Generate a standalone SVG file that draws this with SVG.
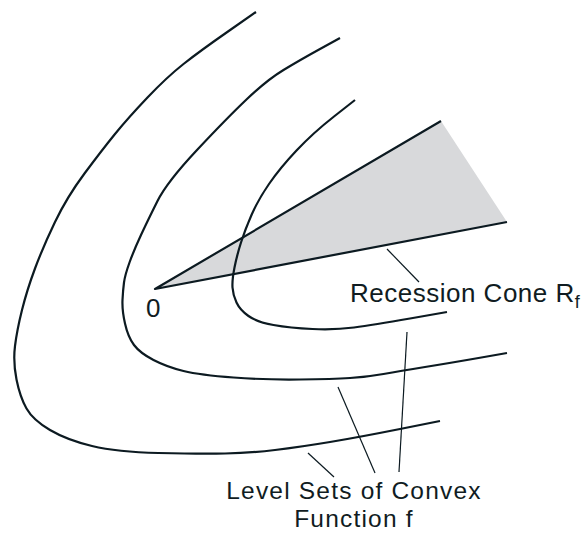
<svg xmlns="http://www.w3.org/2000/svg" width="583" height="533" viewBox="0 0 583 533">
<style>
.curve{fill:none;stroke:#0c1a21;stroke-width:2.2;stroke-linecap:butt;stroke-linejoin:round}
.leader{fill:none;stroke:#0c1a21;stroke-width:1.2}
.lbl{font-family:"Liberation Sans",Arial,sans-serif;font-size:26px;fill:#101c22;letter-spacing:0.55px}
.lbl2{font-family:"Liberation Sans",Arial,sans-serif;font-size:24.5px;fill:#101c22;letter-spacing:1.2px}
</style>
<rect width="583" height="533" fill="#ffffff"/>
<g id="cone">
<polygon points="155,289 441,121 507,222" fill="#d8d9db"/>
<polyline class="curve" points="441,121 155,289 507,222"/>
</g>
<g id="level-set-outer">
<path class="curve" d="M256,12 L228,31.5 Q200,51 183.5,64 Q167,77 147.5,97.5 Q128,118 115,134 Q102,150 84.5,173.5 Q67,197 55,222 Q43,247 35,268.5 Q27,290 22,310 Q17,330 15,346 Q13,362 16.5,379.5 Q20,397 26.5,408.5 Q33,420 50,430 Q67,440 92,446 Q117,452 158.5,453 Q200,454 225,453.5 Q250,453 275,450 Q300,447 330,442 Q360,437 400,429 L440,421"/>
</g>
<g id="level-set-middle">
<path class="curve" d="M340,38 L320,49 Q300,60 283.5,70 Q267,80 247,99 Q227,118 197,150 Q167,182 157.5,201 Q148,220 141,235 Q134,250 129.5,262.5 Q125,275 124,282.5 Q123,290 122.5,300 Q122,310 125,323.5 Q128,337 134,345 Q140,353 153.5,360 Q167,367 183.5,371 Q200,375 233.5,377.5 Q267,380 300,379.5 Q333,379 350,378 Q367,377 383.5,374 Q400,371 425,367 Q450,363 478.5,358 L507,353"/>
</g>
<g id="level-set-inner">
<path class="curve" d="M355,100 L334,116.5 Q313,133 296.5,150.5 Q280,168 269,184 Q258,200 251.5,215 Q245,230 241,242.5 Q237,255 234.5,267.5 Q232,280 232.5,287.5 Q233,295 236.5,302.5 Q240,310 248.5,316 Q257,322 273.5,325 Q290,328 312.5,329 Q335,330 354,327.5 Q373,325 410,318.5 L447,312"/>
</g>
<g id="connectors">
<line class="leader" x1="387" y1="249" x2="419" y2="282"/>
<line class="leader" x1="308" y1="453" x2="334" y2="477"/>
<line class="leader" x1="338" y1="387" x2="375" y2="473"/>
<line class="leader" x1="407" y1="332" x2="399" y2="472"/>
</g>
<g id="origin-label">
<text class="lbl" x="146" y="317">0</text>
</g>
<g id="cone-label">
<text class="lbl" x="350" y="302" style="letter-spacing:0.5px">Recession Cone R<tspan font-size="18" dy="6" style="letter-spacing:0">f</tspan></text>
</g>
<g id="level-sets-label">
<text class="lbl2" x="354" y="499" text-anchor="middle">Level Sets of Convex</text>
<text class="lbl2" x="354" y="527" text-anchor="middle">Function f</text>
</g>
</svg>
